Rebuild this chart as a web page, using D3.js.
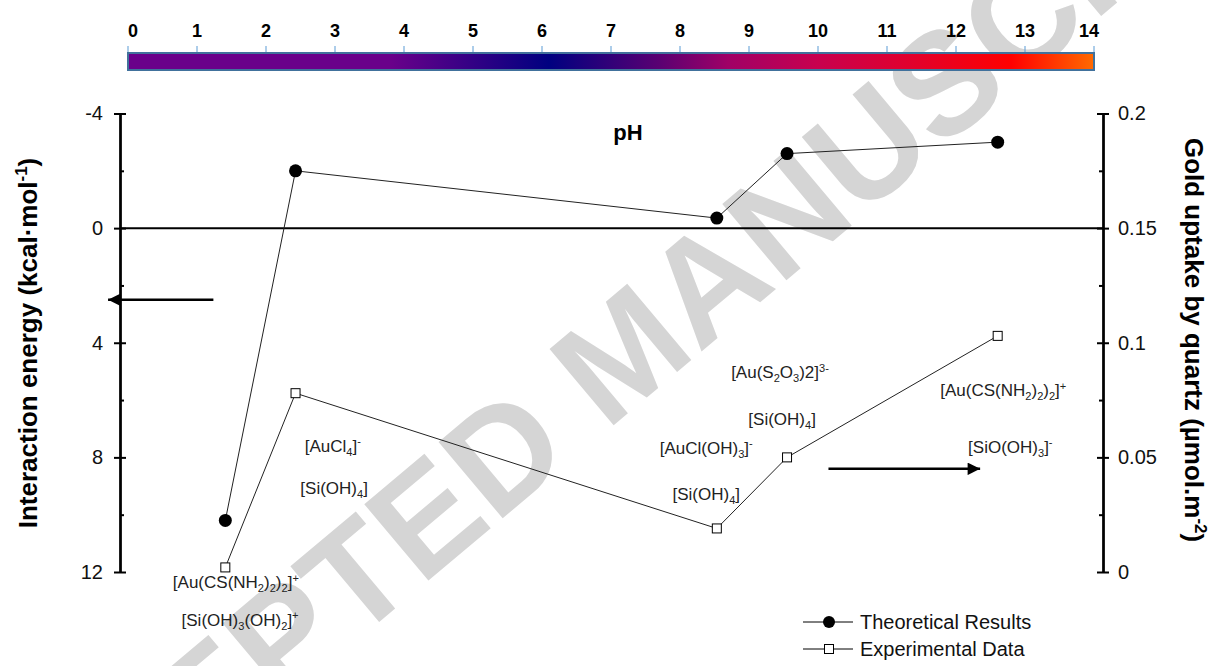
<!DOCTYPE html>
<html>
<head>
<meta charset="utf-8">
<script src="https://cdn.jsdelivr.net/npm/d3@7"></script>
<style>
  body { margin: 0; background: #fff; }
  svg { display: block; font-family: "Liberation Sans", Arial, sans-serif; }
</style>
</head>
<body>
<svg id="chart" width="1214" height="666"></svg>
<script>
// values
const theoPh = [1.5, 2.5, 8.5, 9.5, 12.5];
const theoEnergy = [10.2, -2.0, -0.35, -2.6, -3.0];
const expPh = [1.5, 2.5, 8.5, 9.5, 12.5];
const expUptake = [0.002, 0.078, 0.019, 0.050, 0.103];

const energyTicks = [-4, 0, 4, 8, 12];
const energyMinor = [-2, 2, 6, 10];
const uptakeTicks = [0, 0.05, 0.1, 0.15, 0.2];
const uptakeMinor = [0.025, 0.075, 0.125, 0.175];
const phBarTicks = d3.range(0, 15);

const phStops = [0, 3.8, 6.1, 7.7, 8.7, 10, 11.3, 12.8, 14];
const phColors = ['#6a008a', '#6a008a', '#000080', '#5a0072', '#a00066', '#c8004e', '#e0002e', '#ff0000', '#ff6a00'];

const legendNames = ['Theoretical Results', 'Experimental Data'];

// species labels: {_x} subscript, {^x} superscript ; placed at (pH, energy)
const speciesText = [
  '[AuCl{_4}]{^-}', '[Si(OH){_4}]',
  '[Au(CS(NH{_2}){_2}){_2}]{^+}', '[Si(OH){_3}(OH){_2}]{^+}',
  '[Au(S{_2}O{_3})2]{^3-}', '[Si(OH){_4}]',
  '[AuCl(OH){_3}]{^-}', '[Si(OH){_4}]',
  '[Au(CS(NH{_2}){_2}){_2}]{^+}', '[SiO(OH){_3}]{^-}'
];
const speciesPh = [3.03, 3.05, 1.65, 1.71, 9.40, 9.43, 8.35, 8.35, 12.58, 12.68];
const speciesEnergy = [7.81, 9.28, 12.56, 13.88, 5.23, 6.87, 7.88, 9.49, 5.86, 7.84];

const svg = d3.select('#chart');

const x = d3.scaleLinear().domain([0, 14]).range([120, 1103]);
const yE = d3.scaleLinear().domain([-4, 12]).range([113.5, 572]);
const yU = d3.scaleLinear().domain([0, 0.2]).range([572, 113.5]);
const barX = d3.scaleLinear().domain([0, 14]).range([128, 1094]);

function richText(sel, str) {
  let shift = 0;
  str.split(/(\{[_^][^}]*\})/).filter(s => s).forEach(p => {
    const m = p.match(/^\{([_^])(.*)\}$/);
    let target = 0, txt = p;
    if (m) { target = m[1] === '_' ? 0.22 : -0.38; txt = m[2]; }
    const t = sel.append('tspan').attr('dy', (target - shift) + 'em').text(txt);
    if (m) t.attr('font-size', '0.65em').attr('dy', ((target - shift) / 0.65) + 'em');
    shift = target;
  });
}

// watermark behind everything
svg.append('text')
  .attr('transform', 'translate(622,350) rotate(-40)')
  .attr('text-anchor', 'middle')
  .attr('dy', '0.36em')
  .attr('font-size', 145)
  .attr('font-weight', 'bold')
  .attr('fill', '#d5d5d5')
  .text('ACCEPTED MANUSCRIPT');

// pH colour bar
const grad = svg.append('defs').append('linearGradient')
  .attr('id', 'phgrad').attr('x1', '0%').attr('x2', '100%');
grad.selectAll('stop').data(phStops).join('stop')
  .attr('offset', d => (d / 14 * 100) + '%')
  .attr('stop-color', (d, i) => phColors[i]);

svg.append('rect')
  .attr('x', barX(0)).attr('y', 53)
  .attr('width', barX(14) - barX(0)).attr('height', 17)
  .attr('fill', 'url(#phgrad)')
  .attr('stroke', '#41719c').attr('stroke-width', 2);

svg.selectAll('.bartick').data(phBarTicks).join('line')
  .attr('class', 'bartick')
  .attr('x1', d => barX(d)).attr('x2', d => barX(d))
  .attr('y1', 46).attr('y2', 52)
  .attr('stroke', '#5b9bd5').attr('stroke-width', 1);

svg.selectAll('.barlabel').data(phBarTicks).join('text')
  .attr('class', 'barlabel')
  .attr('x', d => d === 14 ? barX(d) - 5 : barX(d) + (d === 0 ? 5 : 0))
  .attr('y', 37)
  .attr('text-anchor', 'middle')
  .attr('font-size', 18).attr('font-weight', 'bold')
  .text(d => d);

svg.append('text')
  .attr('x', 628).attr('y', 140)
  .attr('text-anchor', 'middle')
  .attr('font-size', 22).attr('font-weight', 'bold')
  .text('pH');

// axes
function styleAxis(g) {
  g.selectAll('path').attr('stroke', '#000').attr('stroke-width', 2);
  g.selectAll('line').attr('stroke', '#000').attr('stroke-width', 2);
  g.selectAll('text').attr('font-size', 20).attr('fill', '#111')
    .attr('font-family', '"Liberation Sans", Arial, sans-serif');
}

svg.append('g').attr('transform', 'translate(120,0)')
  .call(d3.axisLeft(yE).tickValues(energyTicks).tickSizeInner(6).tickSizeOuter(0).tickPadding(11)
    .tickFormat(d => String(d)))
  .call(styleAxis);
svg.append('g').attr('transform', 'translate(120,0)')
  .call(d3.axisRight(yE).tickValues(energyTicks).tickSizeInner(6).tickSizeOuter(0).tickFormat(''))
  .call(styleAxis);
svg.append('g').attr('transform', 'translate(120,0)')
  .call(d3.axisRight(yE).tickValues(energyMinor).tickSizeInner(4).tickSizeOuter(0).tickFormat(''))
  .call(styleAxis);

svg.append('g').attr('transform', 'translate(1103,0)')
  .call(d3.axisRight(yU).tickValues(uptakeTicks).tickSizeInner(6).tickSizeOuter(0).tickPadding(9)
    .tickFormat(d => String(+d.toFixed(2))))
  .call(styleAxis);
svg.append('g').attr('transform', 'translate(1103,0)')
  .call(d3.axisLeft(yU).tickValues(uptakeTicks).tickSizeInner(6).tickSizeOuter(0).tickFormat(''))
  .call(styleAxis);
svg.append('g').attr('transform', 'translate(1103,0)')
  .call(d3.axisLeft(yU).tickValues(uptakeMinor).tickSizeInner(4).tickSizeOuter(0).tickFormat(''))
  .call(styleAxis);

// zero line
svg.append('line')
  .attr('x1', x(0)).attr('x2', x(14))
  .attr('y1', yE(0)).attr('y2', yE(0))
  .attr('stroke', '#000').attr('stroke-width', 2);

// axis titles
const leftTitle = svg.append('text')
  .attr('transform', 'translate(37,343) rotate(-90)')
  .attr('text-anchor', 'middle')
  .attr('font-size', 26).attr('font-weight', 'bold');
richText(leftTitle, 'Interaction energy (kcal\u00b7mol{^-1})');

const rightTitle = svg.append('text')
  .attr('transform', 'translate(1185,340) rotate(90)')
  .attr('text-anchor', 'middle')
  .attr('font-size', 26).attr('font-weight', 'bold');
richText(rightTitle, 'Gold uptake by quartz (\u00b5mol.m{^-2})');

// arrows
svg.append('defs').append('marker')
  .attr('id', 'head').attr('viewBox', '0 0 10 10')
  .attr('refX', 10).attr('refY', 5)
  .attr('markerWidth', 6).attr('markerHeight', 5)
  .attr('markerUnits', 'strokeWidth')
  .attr('orient', 'auto')
  .append('path').attr('d', 'M0,0L10,5L0,10Z').attr('fill', '#000');

svg.append('line')
  .attr('x1', x(1.33)).attr('x2', x(-0.17))
  .attr('y1', yE(2.5)).attr('y2', yE(2.5))
  .attr('stroke', '#000').attr('stroke-width', 2.5)
  .attr('marker-end', 'url(#head)');

svg.append('line')
  .attr('x1', x(10.09)).attr('x2', x(12.25))
  .attr('y1', yE(8.4)).attr('y2', yE(8.4))
  .attr('stroke', '#000').attr('stroke-width', 2.5)
  .attr('marker-end', 'url(#head)');

// series
const theo = theoPh.map((p, i) => [x(p), yE(theoEnergy[i])]);
const exp = expPh.map((p, i) => [x(p), yU(expUptake[i])]);

svg.append('path').attr('d', d3.line()(theo))
  .attr('fill', 'none').attr('stroke', '#222').attr('stroke-width', 1);
svg.append('path').attr('d', d3.line()(exp))
  .attr('fill', 'none').attr('stroke', '#222').attr('stroke-width', 1);

svg.selectAll('.theo').data(theo).join('circle')
  .attr('class', 'theo')
  .attr('cx', d => d[0]).attr('cy', d => d[1]).attr('r', 6.5)
  .attr('fill', '#000');

svg.selectAll('.exp').data(exp).join('rect')
  .attr('class', 'exp')
  .attr('x', d => d[0] - 4.5).attr('y', d => d[1] - 4.5)
  .attr('width', 9).attr('height', 9)
  .attr('fill', '#fff').attr('stroke', '#000').attr('stroke-width', 1);

// species labels
svg.selectAll('.species').data(speciesText).join('text')
  .attr('class', 'species')
  .attr('x', (d, i) => x(speciesPh[i]))
  .attr('y', (d, i) => yE(speciesEnergy[i]))
  .attr('text-anchor', 'middle')
  .attr('font-size', 17).attr('fill', '#222')
  .each(function (d) { richText(d3.select(this), d); });

// legend
const legend = svg.append('g').attr('transform', 'translate(803,622)');
legendNames.forEach((name, i) => {
  const g = legend.append('g').attr('transform', 'translate(0,' + (i * 27) + ')');
  g.append('line').attr('x1', 0).attr('x2', 50).attr('stroke', '#000').attr('stroke-width', 1);
  if (i === 0) {
    g.append('circle').attr('cx', 26).attr('r', 6).attr('fill', '#000');
  } else {
    g.append('rect').attr('x', 21.5).attr('y', -4.5).attr('width', 9).attr('height', 9)
      .attr('fill', '#fff').attr('stroke', '#000');
  }
  g.append('text').attr('x', 57).attr('dy', '0.35em')
    .attr('font-size', 20).attr('fill', '#111').text(name);
});
</script>
</body>
</html>
